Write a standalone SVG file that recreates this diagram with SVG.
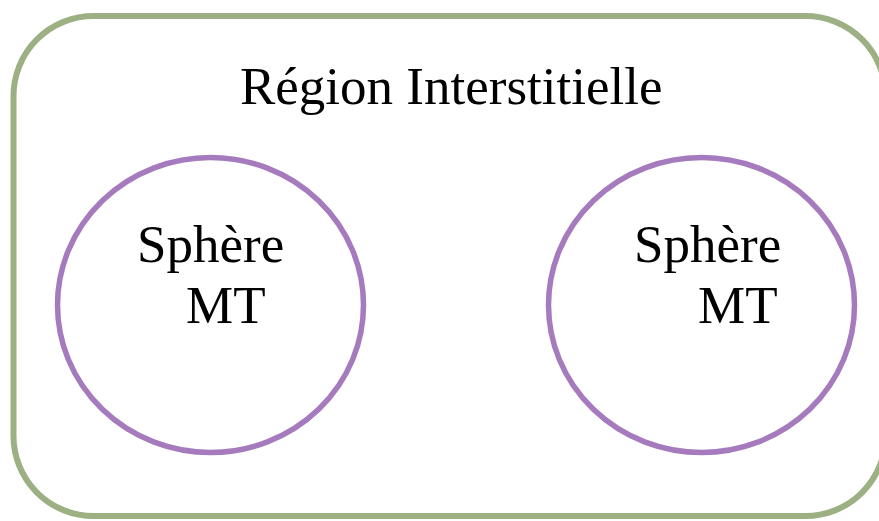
<svg xmlns="http://www.w3.org/2000/svg" width="879" height="521" viewBox="0 0 879 521">
<style>
.t{font-family:"Liberation Serif","Times New Roman",serif;font-size:53px;fill:#000}
.sph{fill:none;stroke:#A57BBE;stroke-width:5.5}
</style>
<rect width="879" height="521" fill="#fff"/>
<g id="region">
<rect x="13.5" y="16" width="872" height="500" rx="80" ry="80" fill="none" stroke="#9CB083" stroke-width="6"/>
<text class="t" x="240" y="104">Région Interstitielle</text>
</g>
<g id="sphere1">
<ellipse class="sph" cx="210.5" cy="305" rx="153" ry="147.5"/>
<text class="t" x="137" y="262">Sphère</text>
<text class="t" x="186" y="323">MT</text>
</g>
<g id="sphere2">
<ellipse class="sph" cx="701.5" cy="305" rx="153" ry="147.5"/>
<text class="t" x="634" y="262">Sphère</text>
<text class="t" x="698" y="323">MT</text>
</g>
<g id="connectors"></g>
</svg>
